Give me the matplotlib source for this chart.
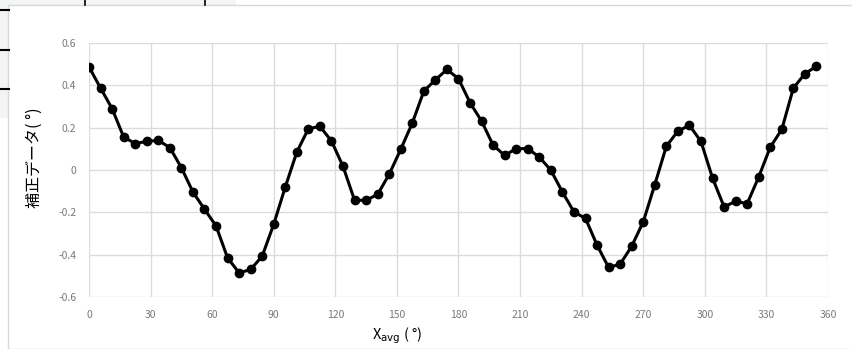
import numpy as np
import matplotlib
matplotlib.use('Agg')
import matplotlib.pyplot as plt
from matplotlib.patches import Rectangle
from matplotlib.lines import Line2D

plt.rcParams['font.family'] = ['Noto Sans CJK JP', 'DejaVu Sans']

# 64 samples, 5.625 deg apart
x_avg = np.arange(64)*5.625
correction = [0.487, 0.387, 0.290, 0.156, 0.125, 0.135, 0.140, 0.106,
              0.011, -0.104, -0.185, -0.264, -0.415, -0.486, -0.470, -0.407,
              -0.256, -0.080, 0.085, 0.195, 0.206, 0.137, 0.017, -0.143,
              -0.143, -0.115, -0.020, 0.098, 0.222, 0.373, 0.426, 0.475,
              0.431, 0.318, 0.231, 0.117, 0.069, 0.101, 0.101, 0.061,
              -0.001, -0.104, -0.198, -0.229, -0.355, -0.460, -0.445, -0.360,
              -0.245, -0.069, 0.112, 0.184, 0.211, 0.135, -0.038, -0.174,
              -0.148, -0.159, -0.033, 0.108, 0.192, 0.387, 0.455, 0.490]
x_ticks = np.arange(0, 361, 30)
y_ticks = [-0.6, -0.4, -0.2, 0, 0.2, 0.4, 0.6]
y_ticklabels = ['-0.6', '-0.4', '-0.2', '0', '0.2', '0.4', '0.6']

W, H = 853, 349
fig = plt.figure(figsize=(W/100, H/100), dpi=100)

# scanned page bits around the chart
fig.patches.append(Rectangle((0, 1-118/H), 236/W, 118/H, transform=fig.transFigure,
                             facecolor='#f3f5f5', edgecolor='none', zorder=-10))
fig.patches.append(Rectangle((8/W, 0), 1, 1-5/H, transform=fig.transFigure,
                             facecolor='white', edgecolor='#d8d8d8', lw=1.0, zorder=-9))
for yy in [10, 50, 89]:
    fig.lines.append(Line2D([0, 9/W], [1-yy/H]*2, transform=fig.transFigure,
                            color='black', lw=1.5, zorder=-8))
for xx in [85, 205]:
    fig.lines.append(Line2D([xx/W]*2, [1, 1-5/H], transform=fig.transFigure,
                            color='black', lw=1.2, zorder=-8))

ax = fig.add_axes([89/W, 52/H, 739/W, 254/H])
ax.set_zorder(5)
ax.set_facecolor('none')
ax.plot(x_avg, correction, color='black', lw=2.2, marker='o', ms=6, zorder=3)

ax.set_xlim(0, 360)
ax.set_ylim(-0.6, 0.6)
ax.set_xticks(x_ticks)
ax.set_yticks(y_ticks)
ax.set_yticklabels(y_ticklabels)
ax.grid(True, color='#dcdcdc', lw=1)
for s in ax.spines.values():
    s.set_visible(False)
ax.tick_params(length=0, labelsize=7.5, labelcolor='#7a7a7a', pad=9)

ax.set_ylabel('補正データ( °)', fontsize=11.5)
ax.yaxis.set_label_coords(-0.062, 0.55)
ax.set_xlabel(r'X$_{\mathrm{avg}}$ ( °)', fontsize=10.5)
ax.xaxis.set_label_coords(0.417, -0.11)

fig.savefig('out.png', dpi=100)
